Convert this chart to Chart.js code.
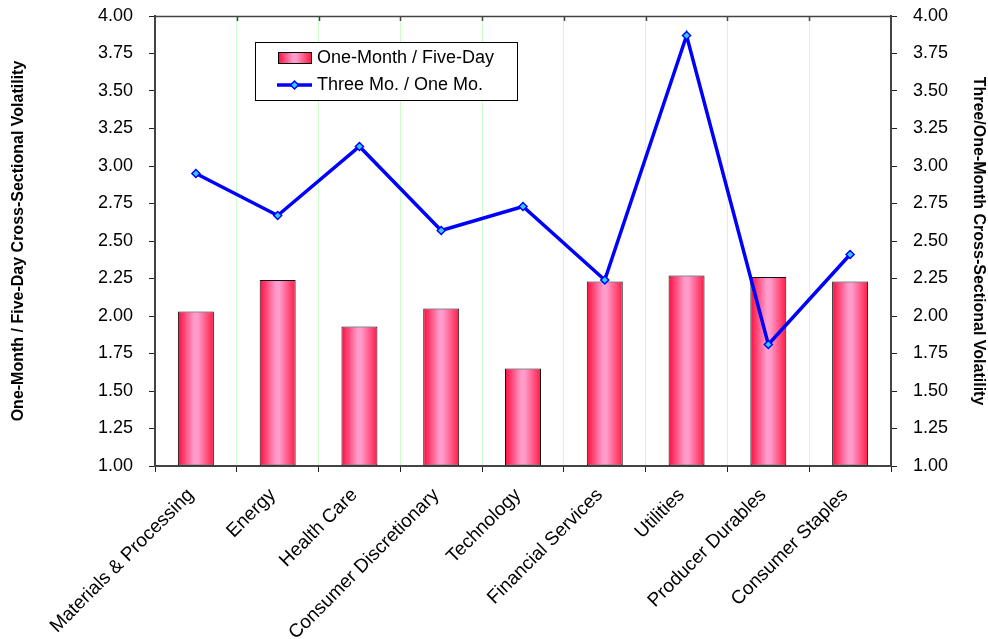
<!DOCTYPE html>
<html>
<head>
<meta charset="utf-8">
<script src="https://cdn.jsdelivr.net/npm/chart.js@4/dist/chart.umd.min.js"></script>
<style>
  body { margin: 0; background: #fff; }
  canvas { display: block; }
</style>
</head>
<body>
<canvas id="chart" width="988" height="639"></canvas>
<script>
// data
const categories = ['Materials & Processing', 'Energy', 'Health Care', 'Consumer Discretionary',
  'Technology', 'Financial Services', 'Utilities', 'Producer Durables', 'Consumer Staples'];
const oneMonthFiveDay = [2.03, 2.24, 1.93, 2.05, 1.65, 2.23, 2.27, 2.26, 2.23];
const threeMoOneMo = [2.95, 2.67, 3.13, 2.57, 2.73, 2.24, 3.87, 1.81, 2.41];
const axisMin = 1.0;
const axisMax = 4.0;
const axisStep = 0.25;

const BAR_PCT = 0.44;
const FONT = 'Liberation Sans, Arial, sans-serif';

function redPink(c, x0, x1) {
  const g = c.createLinearGradient(x0, 0, x1, 0);
  g.addColorStop(0, '#ff0a3c');
  g.addColorStop(0.45, '#ff9ccc');
  g.addColorStop(0.55, '#ff9ccc');
  g.addColorStop(1, '#ff1a45');
  return g;
}

function barFill(ctx) {
  const chart = ctx.chart;
  const x = chart.scales.x;
  if (!x || !chart.chartArea || ctx.dataIndex === undefined) return '#ff6688';
  const cx = x.getPixelForValue(ctx.dataIndex);
  const w = x.width / categories.length * BAR_PCT;
  return redPink(chart.ctx, cx - w / 2, cx + w / 2);
}

// fixed box sizes so the plot sits where it does in the picture
function fitY(width) {
  return s => {
    s.width = width;
    s.paddingTop = 0;
    s.paddingBottom = 0;
  };
}

// top frame line with small ticks + legend box inside the plot
const extras = {
  id: 'extras',
  afterDatasetsDraw(chart) {
    const c = chart.ctx;
    const a = chart.chartArea;
    const n = categories.length;
    const step = (a.right - a.left) / n;
    c.save();
    c.strokeStyle = '#444';
    c.lineWidth = 1.5;
    c.beginPath();
    c.moveTo(a.left, a.top + 0.5);
    c.lineTo(a.right, a.top + 0.5);
    for (let i = 1; i < n; i++) {
      const x = Math.round(a.left + step * i) + 0.5;
      c.moveTo(x, a.top);
      c.lineTo(x, a.top + 5);
    }
    c.stroke();

    // legend
    const bars = chart.data.datasets.find(d => d.type !== 'line');
    const line = chart.data.datasets.find(d => d.type === 'line');
    const lx = 255, ly = 42, lw = 262, lh = 58;
    c.fillStyle = '#fff';
    c.fillRect(lx, ly, lw, lh);
    c.strokeStyle = '#000';
    c.lineWidth = 1;
    c.strokeRect(lx + 0.5, ly + 0.5, lw, lh);

    // bar swatch
    c.fillStyle = redPink(c, 278, 311);
    c.fillRect(278, 52, 33, 11);
    c.strokeStyle = '#000';
    c.strokeRect(278.5, 52.5, 33, 11);
    // line swatch
    c.strokeStyle = '#0000ff';
    c.lineWidth = 3.5;
    c.beginPath();
    c.moveTo(277, 85);
    c.lineTo(312, 85);
    c.stroke();
    c.fillStyle = '#33ccff';
    c.strokeStyle = '#0000ff';
    c.lineWidth = 1.5;
    c.beginPath();
    c.moveTo(294.5, 81);
    c.lineTo(298.5, 85);
    c.lineTo(294.5, 89);
    c.lineTo(290.5, 85);
    c.closePath();
    c.fill();
    c.stroke();

    c.fillStyle = '#000';
    c.font = '18px ' + FONT;
    c.textBaseline = 'middle';
    c.textAlign = 'left';
    c.fillText(bars.label, 317, 58);
    c.fillText(line.label, 317, 85);
    c.restore();
  }
};

new Chart(document.getElementById('chart'), {
  type: 'bar',
  data: {
    labels: categories,
    datasets: [{
      type: 'line',
      label: 'Three Mo. / One Mo.',
      data: threeMoOneMo,
      yAxisID: 'y2',
      borderColor: '#0000ff',
      borderWidth: 3.5,
      pointStyle: 'rectRot',
      pointRadius: 4,
      pointBackgroundColor: '#33ccff',
      pointBorderColor: '#0000ff',
      pointBorderWidth: 1.5,
      tension: 0,
      order: 0
    }, {
      label: 'One-Month / Five-Day',
      data: oneMonthFiveDay,
      yAxisID: 'y',
      backgroundColor: barFill,
      borderColor: '#111',
      borderWidth: 1,
      borderSkipped: false,
      barPercentage: BAR_PCT,
      categoryPercentage: 1,
      base: axisMin,
      order: 1
    }]
  },
  options: {
    responsive: false,
    animation: false,
    layout: { padding: { top: 16 } },
    plugins: {
      legend: { display: false },
      tooltip: { enabled: false }
    },
    scales: {
      x: {
        offset: true,
        afterFit: s => { s.height = 173; s.paddingLeft = 0; s.paddingRight = 0; },
        grid: { offset: true, color: '#ccffcc', tickColor: '#222', tickLength: 6, lineWidth: 1 },
        border: { color: '#444', width: 2 },
        ticks: {
          autoSkip: false,
          minRotation: 45,
          maxRotation: 45,
          color: '#000',
          font: { family: FONT, size: 19 },
          padding: 12,
          labelOffset: -5
        }
      },
      y: {
        position: 'left',
        min: axisMin,
        max: axisMax,
        afterFit: fitY(155),
        grid: { drawOnChartArea: false, tickColor: '#222', tickLength: 6 },
        border: { color: '#444', width: 2 },
        ticks: {
          stepSize: axisStep,
          color: '#000',
          font: { family: FONT, size: 18 },
          padding: 16,
          callback: v => v.toFixed(2)
        },
        title: {
          display: true,
          text: 'One-Month / Five-Day Cross-Sectional Volatility',
          color: '#000',
          font: { family: FONT, size: 16, weight: 'bold' },
          padding: { top: 9, bottom: 0 }
        }
      },
      y2: {
        position: 'right',
        min: axisMin,
        max: axisMax,
        afterFit: fitY(97),
        grid: { drawOnChartArea: false, tickColor: '#222', tickLength: 6 },
        border: { color: '#444', width: 2 },
        ticks: {
          stepSize: axisStep,
          color: '#000',
          font: { family: FONT, size: 18 },
          padding: 16,
          callback: v => v.toFixed(2)
        },
        title: {
          display: true,
          text: 'Three/One-Month Cross-Sectional Volatility',
          color: '#000',
          font: { family: FONT, size: 16, weight: 'bold' },
          padding: { top: 0, bottom: 0 }
        }
      }
    }
  },
  plugins: [extras]
});
</script>
</body>
</html>
